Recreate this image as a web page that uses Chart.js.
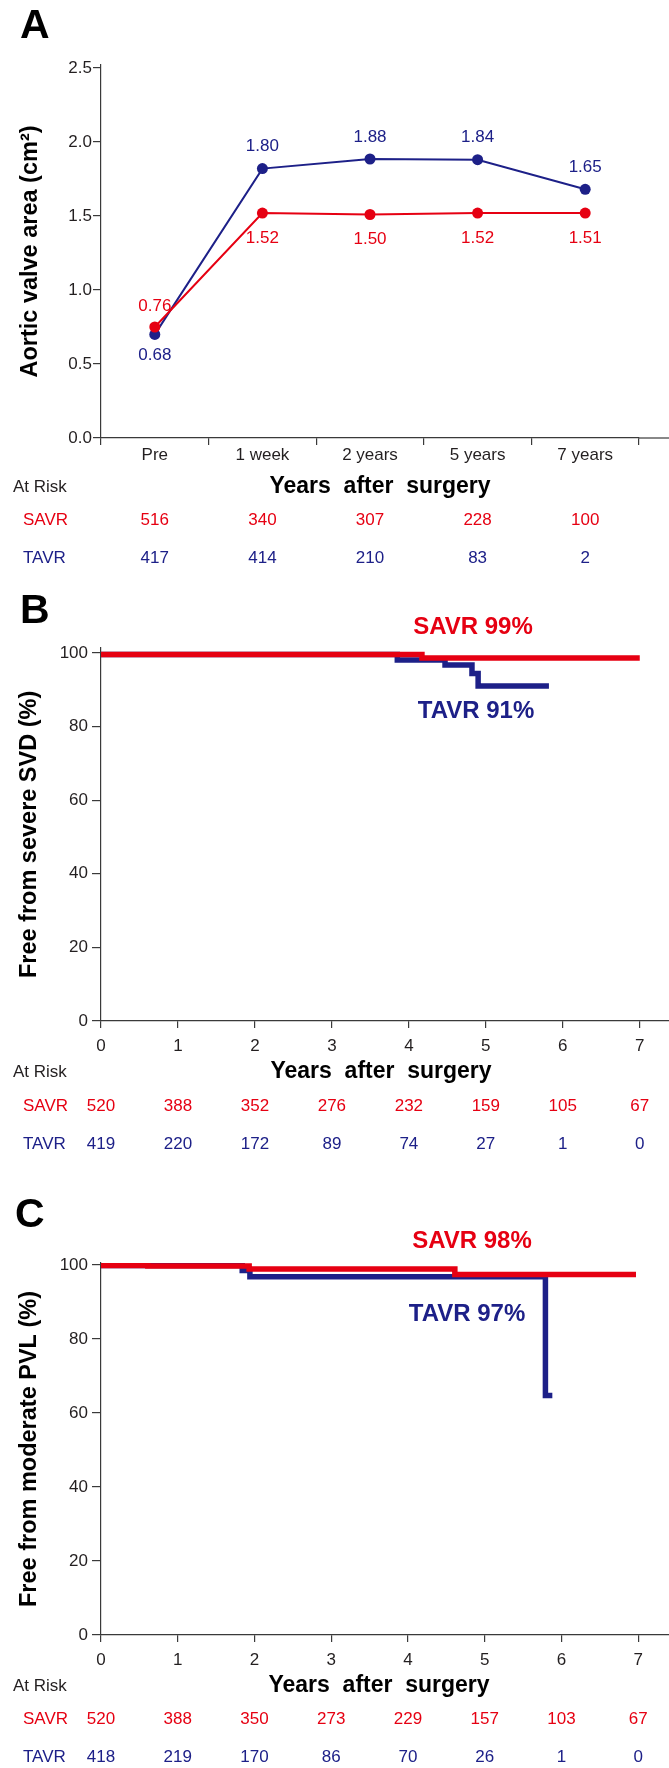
<!DOCTYPE html>
<html>
<head>
<meta charset="utf-8">
<script src="https://cdn.jsdelivr.net/npm/chart.js@4.4.1/dist/chart.umd.min.js"></script>
<style>
  body { margin: 0; background: #fff; }
  #wrap { position: relative; width: 669px; height: 1768px; }
  canvas { position: absolute; left: 0; }
</style>
</head>
<body>
<div id="wrap">
  <canvas id="chartA" width="669" height="580" style="top:0px"></canvas>
  <canvas id="chartB" width="669" height="590" style="top:580px"></canvas>
  <canvas id="chartC" width="669" height="598" style="top:1170px"></canvas>
</div>
<script>
// ---- data, panel A ----
const visitLabels = ['Pre', '1 week', '2 years', '5 years', '7 years'];
const savrArea = [0.75, 1.52, 1.51, 1.52, 1.52];
const tavrArea = [0.70, 1.82, 1.885, 1.88, 1.68];
const savrAreaText = ['0.76', '1.52', '1.50', '1.52', '1.51'];
const tavrAreaText = ['0.68', '1.80', '1.88', '1.84', '1.65'];
const riskSavrA = [516, 340, 307, 228, 100];
const riskTavrA = [417, 414, 210, 83, 2];

// ---- data, panel B (severe SVD) ----
const yearTicks = [0, 1, 2, 3, 4, 5, 6, 7];
const svdSavrYears = [0, 4.17, 7.0];
const svdSavrFree = [99.6, 98.6, 98.6];
const svdTavrYears = [0, 3.85, 4.47, 4.82, 4.90, 5.82];
const svdTavrFree = [99.6, 98.1, 96.7, 94.4, 91.0, 91.0];
const riskSavrB = [520, 388, 352, 276, 232, 159, 105, 67];
const riskTavrB = [419, 220, 172, 89, 74, 27, 1, 0];

// ---- data, panel C (moderate PVL) ----
const pvlSavrYears = [0, 0.61, 1.93, 4.61, 6.97];
const pvlSavrFree = [99.8, 99.7, 98.9, 97.4, 97.4];
const pvlTavrYears = [0, 1.84, 1.94, 5.79, 5.88];
const pvlTavrFree = [99.8, 98.5, 96.8, 64.7, 64.7];
const riskSavrC = [520, 388, 350, 273, 229, 157, 103, 67];
const riskTavrC = [418, 219, 170, 86, 70, 26, 1, 0];

const RED = '#e60012';
const BLUE = '#1d2088';
const AXIS = '#3a3a3a';
const TEXT = '#231f20';
const FONT = '"Liberation Sans", Arial, Helvetica, sans-serif';

Chart.defaults.font.family = FONT;
Chart.defaults.color = TEXT;

function toPoints(xs, ys) {
    return xs.map((x, i) => ({ x: x, y: ys[i] }));
}

// text around each panel: letter, axis title, at-risk table, notes
function panelText(cfg) {
    return {
        id: 'panelText',
        afterDraw(chart) {
            let ctx = chart.ctx;
            let area = chart.chartArea;
            let xs = chart.scales.x;
            let base = area.bottom;
            ctx.save();

            if (cfg.extendAxis) {
                ctx.strokeStyle = AXIS;
                ctx.lineWidth = 1.2;
                ctx.beginPath();
                ctx.moveTo(area.right, base);
                ctx.lineTo(chart.width, base);
                ctx.stroke();
            }

            ctx.fillStyle = '#000';
            ctx.font = 'bold 41px ' + FONT;
            ctx.textAlign = 'left';
            ctx.textBaseline = 'alphabetic';
            ctx.fillText(cfg.letter, cfg.letterX, cfg.letterY);

            ctx.textBaseline = 'middle';
            ctx.textAlign = 'center';
            ctx.font = 'bold 23px ' + FONT;
            ctx.fillText('Years  after  surgery', cfg.titleX, base + cfg.rowDy[0]);

            ctx.font = '17px ' + FONT;
            ctx.textAlign = 'left';
            ctx.fillStyle = TEXT;
            ctx.fillText('At Risk', 13, base + cfg.rowDy[0]);
            ctx.fillStyle = RED;
            ctx.fillText('SAVR', 23, base + cfg.rowDy[1]);
            ctx.fillStyle = BLUE;
            ctx.fillText('TAVR', 23, base + cfg.rowDy[2]);

            ctx.textAlign = 'center';
            cfg.riskSavr.forEach((n, i) => {
                ctx.fillStyle = RED;
                ctx.fillText(String(n), xs.getPixelForValue(cfg.riskAt[i]), base + cfg.rowDy[1]);
            });
            cfg.riskTavr.forEach((n, i) => {
                ctx.fillStyle = BLUE;
                ctx.fillText(String(n), xs.getPixelForValue(cfg.riskAt[i]), base + cfg.rowDy[2]);
            });

            ctx.font = 'bold 24px ' + FONT;
            (cfg.notes || []).forEach(n => {
                ctx.fillStyle = n.color;
                ctx.fillText(n.text, n.x, n.y);
            });
            ctx.restore();
        }
    };
}

// value labels next to the points of panel A
const pointLabels = {
    id: 'pointLabels',
    afterDatasetsDraw(chart) {
        let ctx = chart.ctx;
        ctx.save();
        ctx.font = '17px ' + FONT;
        ctx.textAlign = 'center';
        ctx.textBaseline = 'middle';
        let savr = chart.getDatasetMeta(0).data;
        let tavr = chart.getDatasetMeta(1).data;
        savr.forEach((p, i) => {
            ctx.fillStyle = RED;
            let dy = i === 0 ? -21 : 25;
            ctx.fillText(savrAreaText[i], p.x, p.y + dy);
        });
        tavr.forEach((p, i) => {
            ctx.fillStyle = BLUE;
            let dy = i === 0 ? 21 : -22;
            ctx.fillText(tavrAreaText[i], p.x, p.y + dy);
        });
        ctx.restore();
    }
};

function yAxis(max, step, title, tickLen, pad, titlePad, fmt) {
    return {
        min: 0,
        max: max,
        ticks: {
            stepSize: step,
            includeBounds: false,
            padding: pad,
            color: TEXT,
            font: { size: 17 },
            callback: fmt
        },
        grid: { drawOnChartArea: false, drawTicks: true, tickLength: tickLen, color: AXIS, lineWidth: 1.2 },
        border: { display: true, color: AXIS, width: 1.2 },
        title: {
            display: true,
            text: title,
            color: '#000',
            font: { size: 23.5, weight: 'bold' },
            padding: { top: titlePad, bottom: 0 }
        },
        afterFit: s => { s.width = 101; }
    };
}

// ---- panel A ----
new Chart(document.getElementById('chartA'), {
    type: 'line',
    data: {
        labels: visitLabels,
        datasets: [{
            label: 'SAVR',
            data: savrArea,
            borderColor: RED,
            backgroundColor: RED,
            pointBackgroundColor: RED,
            pointBorderWidth: 0,
            pointRadius: 5.5,
            borderWidth: 2
        }, {
            label: 'TAVR',
            data: tavrArea,
            borderColor: BLUE,
            backgroundColor: BLUE,
            pointBackgroundColor: BLUE,
            pointBorderWidth: 0,
            pointRadius: 5.5,
            borderWidth: 2
        }]
    },
    options: {
        responsive: false,
        animation: false,
        devicePixelRatio: 1,
        layout: { padding: { left: 0, top: 65, right: 30, bottom: 112 } },
        plugins: { legend: { display: false }, tooltip: { enabled: false } },
        scales: {
            x: {
                type: 'category',
                offset: true,
                ticks: { padding: 0, color: TEXT, font: { size: 17 }, maxRotation: 0 },
                grid: { offset: true, drawOnChartArea: false, drawTicks: true, tickLength: 7, color: AXIS, lineWidth: 1.2 },
                border: { display: true, color: AXIS, width: 1.2 },
                afterFit: s => { s.height = 30; }
            },
            y: yAxis(2.52, 0.5, 'Aortic valve area (cm²)', 8, 1, 16, v => v.toFixed(1))
        }
    },
    plugins: [pointLabels, panelText({
        letter: 'A', letterX: 20, letterY: 38,
        titleX: 380, rowDy: [49, 82, 120.5],
        riskSavr: riskSavrA, riskTavr: riskTavrA, riskAt: [0, 1, 2, 3, 4],
        extendAxis: true
    })]
});

// ---- panels B and C ----
function drawKM(id, cfg) {
    new Chart(document.getElementById(id), {
        type: 'line',
        data: {
            datasets: [{
                label: 'SAVR',
                data: toPoints(cfg.savrYears, cfg.savrFree),
                borderColor: RED,
                borderWidth: 5.5,
                stepped: true,
                pointRadius: 0,
                fill: false
            }, {
                label: 'TAVR',
                data: toPoints(cfg.tavrYears, cfg.tavrFree),
                borderColor: BLUE,
                borderWidth: 5.5,
                stepped: true,
                pointRadius: 0,
                fill: false
            }]
        },
        options: {
            responsive: false,
            animation: false,
            devicePixelRatio: 1,
            layout: { padding: { left: 0, top: cfg.padTop, right: 0, bottom: cfg.padBottom } },
            plugins: { legend: { display: false }, tooltip: { enabled: false } },
            scales: {
                x: {
                    type: 'linear',
                    min: 0,
                    max: cfg.xMax,
                    ticks: { stepSize: 1, includeBounds: false, padding: 8, color: TEXT, font: { size: 17 }, maxRotation: 0 },
                    grid: { drawOnChartArea: false, drawTicks: true, tickLength: 7, color: AXIS, lineWidth: 1.2 },
                    border: { display: true, color: AXIS, width: 1.2 },
                    afterFit: s => { s.height = 30; }
                },
                y: yAxis(cfg.yMax, 20, cfg.yTitle, 9, 4, 15, v => String(v))
            }
        },
        plugins: [panelText({
            letter: cfg.letter, letterX: cfg.letterX, letterY: cfg.letterY,
            titleX: cfg.titleX, rowDy: cfg.rowDy,
            riskSavr: cfg.riskSavr, riskTavr: cfg.riskTavr, riskAt: yearTicks,
            notes: cfg.notes
        })]
    });
}

drawKM('chartB', {
    savrYears: svdSavrYears, savrFree: svdSavrFree,
    tavrYears: svdTavrYears, tavrFree: svdTavrFree,
    riskSavr: riskSavrB, riskTavr: riskTavrB,
    yTitle: 'Free from severe SVD (%)',
    padTop: 67.8, padBottom: 119, xMax: 7.38, yMax: 101.4,
    letter: 'B', letterX: 20, letterY: 43,
    titleX: 381, rowDy: [51, 85, 123.5],
    notes: [
        { text: 'SAVR 99%', color: RED, x: 473, y: 47 },
        { text: 'TAVR 91%', color: BLUE, x: 476, y: 131.5 }
    ]
});

drawKM('chartC', {
    savrYears: pvlSavrYears, savrFree: pvlSavrFree,
    tavrYears: pvlTavrYears, tavrFree: pvlTavrFree,
    riskSavr: riskSavrC, riskTavr: riskTavrC,
    yTitle: 'Free from moderate PVL (%)',
    padTop: 93, padBottom: 103, xMax: 7.4, yMax: 100.5,
    letter: 'C', letterX: 15, letterY: 57,
    titleX: 379, rowDy: [51, 84, 122],
    notes: [
        { text: 'SAVR 98%', color: RED, x: 472, y: 71 },
        { text: 'TAVR 97%', color: BLUE, x: 467, y: 144 }
    ]
});
</script>
</body>
</html>
